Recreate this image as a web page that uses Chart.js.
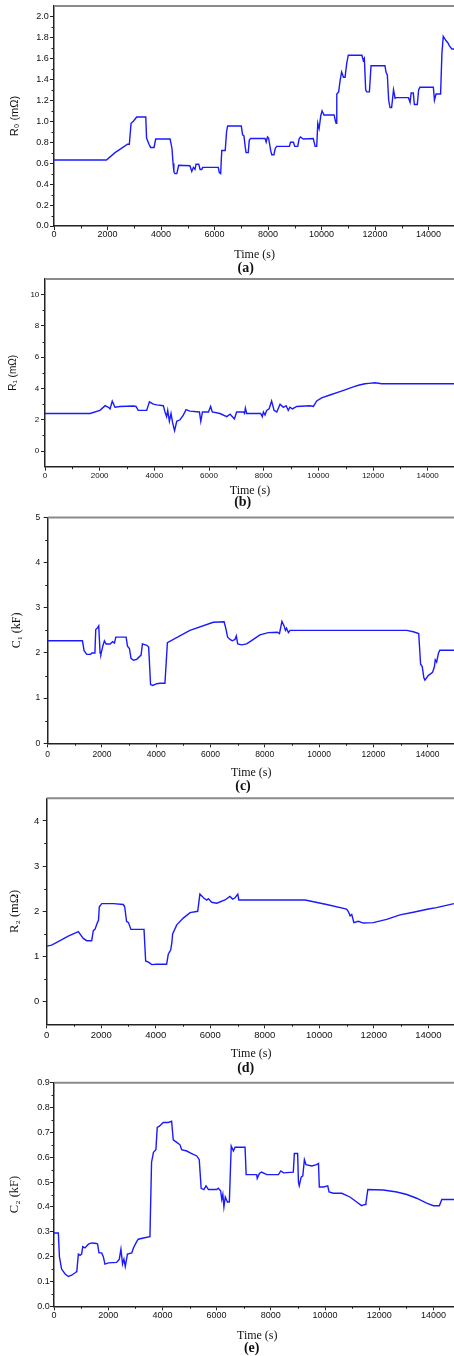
<!DOCTYPE html>
<html>
<head>
<meta charset="utf-8">
<script src="https://cdn.jsdelivr.net/npm/chart.js@4.4.0/dist/chart.umd.min.js"></script>
<style>
  html, body { margin: 0; padding: 0; background: #fff; }
  #page { position: relative; width: 454px; height: 1356px; overflow: hidden; }
  .panel { position: absolute; left: 0; }
  .tag {
    position: absolute;
    font: bold 14px "Liberation Serif", "Times New Roman", serif;
    color: #111;
    transform: translate(-50%, -50%);
    white-space: nowrap;
  }
</style>
</head>
<body>
<div id="page"></div>
<script>
// [time (s), value] pairs for each identified parameter
const r0Series = [
  [0, 0.63], [1960, 0.63], [2280, 0.70], [2750, 0.78], [2816, 0.78], [2880, 0.98], [2965, 1.00], [3090, 1.04],
  [3430, 1.04], [3460, 0.84], [3550, 0.78], [3610, 0.75], [3740, 0.75], [3800, 0.83], [4340, 0.83], [4410, 0.74],
  [4450, 0.60], [4480, 0.52], [4520, 0.50], [4590, 0.50], [4660, 0.58], [5080, 0.575], [5150, 0.52], [5210, 0.56],
  [5270, 0.54], [5310, 0.59], [5410, 0.59], [5460, 0.54], [5520, 0.54], [5560, 0.56], [6140, 0.56], [6180, 0.51],
  [6230, 0.50], [6270, 0.72], [6400, 0.72], [6450, 0.90], [6490, 0.955], [7000, 0.955], [7050, 0.87], [7100, 0.86],
  [7150, 0.75], [7180, 0.70], [7260, 0.70], [7300, 0.82], [7350, 0.835], [7890, 0.835], [7930, 0.80], [7980, 0.85],
  [8020, 0.84], [8100, 0.72], [8140, 0.68], [8220, 0.68], [8270, 0.74], [8320, 0.76], [8800, 0.76], [8840, 0.80],
  [8950, 0.80], [9000, 0.76], [9110, 0.76], [9160, 0.83], [9210, 0.85], [9320, 0.83], [9690, 0.835], [9760, 0.76],
  [9820, 0.76], [9860, 0.98], [9910, 0.93], [9970, 1.05], [10020, 1.10], [10090, 1.06], [10470, 1.06], [10520, 1.00],
  [10545, 0.98], [10570, 1.26], [10640, 1.28], [10690, 1.38], [10750, 1.47], [10820, 1.42], [10880, 1.42], [10940, 1.55],
  [11000, 1.63], [11510, 1.63], [11560, 1.58], [11600, 1.60], [11650, 1.30], [11690, 1.28], [11790, 1.28], [11850, 1.53],
  [12370, 1.53], [12410, 1.47], [12460, 1.44], [12510, 1.20], [12560, 1.13], [12620, 1.13], [12690, 1.30], [12750, 1.22],
  [12800, 1.225], [13250, 1.225], [13310, 1.18], [13350, 1.27], [13430, 1.27], [13470, 1.16], [13580, 1.16], [13630, 1.30],
  [13680, 1.325], [14180, 1.325], [14220, 1.20], [14280, 1.26], [14450, 1.26], [14500, 1.65], [14550, 1.81], [14650, 1.77],
  [14720, 1.75], [14780, 1.72], [14870, 1.69], [15000, 1.69]
];

const r1Series = [
  [0, 2.4], [1650, 2.4], [2010, 2.6], [2200, 2.9], [2320, 2.8], [2380, 2.7], [2460, 3.2], [2560, 2.8],
  [2740, 2.85], [3230, 2.88], [3330, 2.85], [3410, 2.6], [3720, 2.6], [3820, 3.15], [3960, 3.0], [4090, 2.95],
  [4330, 2.9], [4390, 2.5], [4450, 2.2], [4490, 2.6], [4550, 1.9], [4610, 2.4], [4670, 1.8], [4740, 1.3],
  [4820, 1.9], [4940, 2.0], [5060, 2.3], [5160, 2.65], [5300, 2.55], [5650, 2.5], [5700, 1.9], [5760, 2.5],
  [5980, 2.5], [6060, 2.85], [6120, 2.5], [6400, 2.4], [6650, 2.2], [6770, 2.35], [6930, 2.05], [7010, 2.5],
  [7260, 2.5], [7300, 2.4], [7330, 2.75], [7380, 2.4], [7890, 2.4], [7950, 2.2], [7990, 2.5], [8050, 2.3],
  [8110, 2.6], [8200, 2.7], [8290, 3.2], [8380, 2.6], [8480, 2.5], [8600, 3.0], [8720, 2.8], [8820, 2.9],
  [8900, 2.6], [8960, 2.8], [9050, 2.7], [9210, 2.85], [9700, 2.9], [9820, 2.85], [9940, 3.2], [10120, 3.4],
  [10450, 3.6], [10790, 3.8], [11000, 3.93], [11280, 4.1], [11500, 4.22], [11710, 4.3], [11850, 4.33], [12070, 4.37],
  [12320, 4.3], [15000, 4.3]
];

const c1Series = [
  [0, 2.27], [1280, 2.27], [1340, 2.05], [1440, 1.97], [1580, 1.97], [1630, 2.0], [1740, 2.0], [1770, 2.52],
  [1830, 2.55], [1880, 2.6], [1930, 2.0], [1960, 1.97], [2030, 2.15], [2090, 2.27], [2150, 2.2], [2300, 2.2],
  [2390, 2.25], [2460, 2.22], [2510, 2.35], [2890, 2.35], [2940, 2.15], [3010, 2.1], [3070, 1.88], [3160, 1.84],
  [3280, 1.86], [3400, 1.93], [3440, 1.95], [3490, 2.2], [3650, 2.17], [3720, 2.13], [3790, 1.3], [3870, 1.28],
  [4020, 1.32], [4140, 1.33], [4320, 1.33], [4410, 2.23], [5240, 2.5], [6100, 2.68], [6500, 2.69], [6560, 2.55],
  [6630, 2.35], [6720, 2.3], [6800, 2.27], [6900, 2.3], [6950, 2.38], [7000, 2.2], [7150, 2.18], [7330, 2.2],
  [7580, 2.3], [7820, 2.4], [8130, 2.45], [8460, 2.46], [8540, 2.43], [8630, 2.7], [8710, 2.6], [8760, 2.5],
  [8800, 2.55], [8870, 2.45], [8930, 2.5], [13230, 2.5], [13470, 2.47], [13670, 2.43], [13740, 1.75], [13800, 1.7],
  [13860, 1.45], [13900, 1.4], [14020, 1.5], [14180, 1.57], [14250, 1.7], [14280, 1.85], [14330, 1.8], [14400, 2.0],
  [14450, 2.06], [15000, 2.06]
];

const r2Series = [
  [0, 1.23], [180, 1.25], [490, 1.35], [790, 1.45], [1080, 1.53], [1160, 1.55], [1340, 1.4], [1470, 1.35],
  [1650, 1.35], [1710, 1.57], [1770, 1.6], [1860, 1.75], [1900, 1.8], [1930, 2.1], [2020, 2.17], [2450, 2.17],
  [2810, 2.15], [2860, 2.1], [2930, 1.78], [3000, 1.75], [3090, 1.6], [3570, 1.6], [3630, 0.9], [3750, 0.87],
  [3850, 0.82], [4030, 0.83], [4400, 0.83], [4460, 1.05], [4550, 1.15], [4590, 1.3], [4620, 1.5], [4770, 1.7],
  [5010, 1.85], [5260, 1.97], [5540, 2.0], [5620, 2.38], [5750, 2.3], [5870, 2.25], [5930, 2.28], [6050, 2.2],
  [6240, 2.18], [6540, 2.25], [6720, 2.33], [6820, 2.27], [6910, 2.3], [7010, 2.38], [7050, 2.25], [9480, 2.25],
  [10270, 2.15], [11000, 2.05], [11060, 2.0], [11130, 1.9], [11190, 1.93], [11270, 1.75], [11430, 1.78], [11620, 1.74],
  [11980, 1.75], [12470, 1.82], [12960, 1.92], [13450, 1.98], [14000, 2.05], [14300, 2.08], [14940, 2.17], [15000, 2.18]
];

const c2Series = [
  [0, 0.295], [160, 0.295], [200, 0.2], [280, 0.15], [410, 0.13], [530, 0.12], [650, 0.125], [780, 0.135],
  [840, 0.14], [900, 0.21], [960, 0.205], [1020, 0.21], [1060, 0.24], [1140, 0.235], [1270, 0.25], [1390, 0.255],
  [1570, 0.253], [1610, 0.25], [1660, 0.215], [1760, 0.215], [1820, 0.2], [1880, 0.17], [2010, 0.175], [2310, 0.177],
  [2410, 0.19], [2470, 0.23], [2530, 0.17], [2580, 0.19], [2630, 0.16], [2710, 0.21], [2870, 0.215], [2930, 0.235],
  [3050, 0.26], [3110, 0.27], [3300, 0.275], [3540, 0.28], [3600, 0.58], [3670, 0.62], [3760, 0.63], [3810, 0.72],
  [3890, 0.725], [4030, 0.74], [4220, 0.74], [4340, 0.745], [4400, 0.67], [4530, 0.66], [4650, 0.65], [4710, 0.63],
  [4900, 0.625], [5080, 0.615], [5270, 0.605], [5360, 0.59], [5430, 0.475], [5530, 0.47], [5610, 0.485], [5700, 0.47],
  [6000, 0.47], [6060, 0.475], [6150, 0.465], [6190, 0.43], [6230, 0.45], [6270, 0.4], [6320, 0.44], [6400, 0.42],
  [6470, 0.42], [6540, 0.645], [6620, 0.625], [6680, 0.64], [7050, 0.64], [7090, 0.53], [7480, 0.53], [7500, 0.515],
  [7580, 0.535], [7660, 0.54], [7850, 0.53], [8280, 0.53], [8370, 0.545], [8470, 0.537], [8830, 0.54], [8870, 0.615],
  [8990, 0.615], [9020, 0.5], [9050, 0.485], [9120, 0.52], [9180, 0.525], [9240, 0.59], [9300, 0.57], [9510, 0.565],
  [9690, 0.57], [9760, 0.575], [9790, 0.48], [9940, 0.48], [10100, 0.485], [10150, 0.46], [10310, 0.455], [10620, 0.455],
  [10920, 0.44], [11170, 0.42], [11350, 0.405], [11480, 0.41], [11510, 0.415], [11580, 0.47], [12150, 0.468], [12650, 0.46],
  [13020, 0.45], [13380, 0.435], [13750, 0.415], [14000, 0.405], [14220, 0.405], [14310, 0.43], [15000, 0.43]
];

// axis ticks
const timeTicks = [0, 2000, 4000, 6000, 8000, 10000, 12000, 14000];
const r0Ticks = [0, 0.2, 0.4, 0.6, 0.8, 1.0, 1.2, 1.4, 1.6, 1.8, 2.0];
const r1Ticks = [0, 2, 4, 6, 8, 10];
const c1Ticks = [0, 1, 2, 3, 4, 5];
const r2Ticks = [0, 1, 2, 3, 4];
const c2Ticks = [0, 0.1, 0.2, 0.3, 0.4, 0.5, 0.6, 0.7, 0.8, 0.9];

const SANS = "'Liberation Sans', Arial, sans-serif";
const SERIF = "'Liberation Serif', 'Times New Roman', serif";
const INK = '#222';
const CANVAS_W = 480;

const panels = [
  { series: r0Series, yTicks: r0Ticks, yMin: 0, yMax: 2.1, digits: 1,
    top: 6, bottom: 226, left: 54, right: 455.3,
    yTitle: 'R₀ (mΩ)', yFont: { family: SANS, size: 11 }, yTitleX: 15,
    tickSize: 9, xPad: 0.5, yPad: 1.3, xTitleY: 255, tag: '(a)', tagX: 245.7, tagY: 268 },
  { series: r1Series, yTicks: r1Ticks, yMin: -1, yMax: 11, digits: 0,
    top: 279, bottom: 466.7, left: 45, right: 455,
    yTitle: 'R₁ (mΩ)', yFont: { family: SANS, size: 10 }, yTitleX: 13,
    tickSize: 8, xPad: 1, yPad: 1.7, xTitleY: 491, tag: '(b)', tagX: 242.7, tagY: 502.3 },
  { series: c1Series, yTicks: c1Ticks, yMin: 0, yMax: 5, digits: 0,
    top: 517.5, bottom: 743.3, left: 47.7, right: 454.8,
    yTitle: 'C₁ (kF)', yFont: { family: SERIF, size: 12 }, yTitleX: 17,
    tickSize: 8.5, xPad: 3, yPad: 3.4, xTitleY: 772.7, tag: '(c)', tagX: 243, tagY: 786 },
  { series: r2Series, yTicks: r2Ticks, yMin: -0.5, yMax: 4.5, digits: 0,
    top: 798.3, bottom: 1024.3, left: 46.7, right: 455.6,
    yTitle: 'R₂ (mΩ)', yFont: { family: SERIF, size: 12.5 }, yTitleX: 15,
    tickSize: 9.5, xPad: 2.6, yPad: 3.4, xTitleY: 1054, tag: '(d)', tagX: 245.7, tagY: 1068 },
  { series: c2Series, yTicks: c2Ticks, yMin: 0, yMax: 0.9, digits: 1,
    top: 1082.7, bottom: 1306.3, left: 54, right: 460.5,
    yTitle: 'C₂ (kF)', yFont: { family: SERIF, size: 12.5 }, yTitleX: 15,
    tickSize: 9, xPad: 0.5, yPad: 0.3, xTitleY: 1335.7, tag: '(e)', tagX: 251.7, tagY: 1348 }
];

// minor ticks halfway between the major ones, plus the grey top frame
const framePlugin = {
  id: 'framePlugin',
  afterDraw(chart) {
    const { ctx, chartArea } = chart;
    const xs = chart.scales.x, ys = chart.scales.y;
    ctx.save();
    ctx.strokeStyle = '#8a8a8a';
    ctx.lineWidth = 2;
    ctx.beginPath();
    ctx.moveTo(chartArea.left, chartArea.top);
    ctx.lineTo(chartArea.right, chartArea.top);
    ctx.stroke();

    ctx.strokeStyle = INK;
    ctx.lineWidth = 1;
    ctx.beginPath();
    const minors = (scale) => {
      const vals = scale.ticks.map(t => t.value);
      const half = (vals[1] - vals[0]) / 2;
      const out = [];
      vals.forEach(v => {
        [v - half, v + half].forEach(m => {
          if (m > scale.min + 1e-9 && m < scale.max - 1e-9 && !out.some(o => Math.abs(o - m) < 1e-9)) out.push(m);
        });
      });
      return out;
    };
    minors(xs).forEach(v => {
      const px = Math.round(xs.getPixelForValue(v)) + 0.5;
      ctx.moveTo(px, chartArea.bottom);
      ctx.lineTo(px, chartArea.bottom + 2.5);
    });
    minors(ys).forEach(v => {
      const py = Math.round(ys.getPixelForValue(v)) + 0.5;
      ctx.moveTo(chartArea.left, py);
      ctx.lineTo(chartArea.left - 2.5, py);
    });
    ctx.stroke();
    ctx.restore();
  }
};

const page = document.getElementById('page');

panels.forEach((p) => {
  const canvasTop = Math.round(p.top) - 9;
  const padTop = p.top - canvasTop;
  const xTitleLine = 12 * 1.2;
  const xAxisH = p.xTitleY - p.bottom + xTitleLine / 2;
  const plotBottom = p.bottom - canvasTop;
  const canvasH = Math.ceil(plotBottom + xAxisH) + 2;
  const padBottom = canvasH - plotBottom - xAxisH;
  const yLine = p.yFont.size * 1.2;

  const wrap = document.createElement('div');
  wrap.className = 'panel';
  wrap.style.top = canvasTop + 'px';
  const canvas = document.createElement('canvas');
  canvas.width = CANVAS_W;
  canvas.height = canvasH;
  canvas.style.width = CANVAS_W + 'px';
  canvas.style.height = canvasH + 'px';
  wrap.appendChild(canvas);
  page.appendChild(wrap);

  const tag = document.createElement('div');
  tag.className = 'tag';
  tag.textContent = p.tag;
  tag.style.left = p.tagX + 'px';
  tag.style.top = p.tagY + 'px';
  page.appendChild(tag);

  new Chart(canvas, {
    type: 'line',
    data: {
      datasets: [{
        data: p.series.map(([t, v]) => ({ x: t, y: v })),
        borderColor: '#1a1aff',
        borderWidth: 1.4,
        pointRadius: 0,
        tension: 0,
        fill: false
      }]
    },
    options: {
      responsive: false,
      devicePixelRatio: 1,
      animation: false,
      events: [],
      layout: { padding: { left: 0, top: padTop, right: CANVAS_W - p.right, bottom: padBottom } },
      plugins: { legend: { display: false }, tooltip: { enabled: false } },
      scales: {
        x: {
          type: 'linear',
          min: 0,
          max: 15000,
          afterBuildTicks: (scale) => { scale.ticks = timeTicks.map(v => ({ value: v })); },
          afterFit: (scale) => { scale.height = xAxisH; },
          border: { display: true, color: INK, width: 1.5 },
          grid: { drawOnChartArea: false, drawTicks: true, tickLength: 4, tickColor: INK, tickWidth: 1 },
          ticks: {
            autoSkip: false,
            maxRotation: 0,
            padding: p.xPad,
            color: '#111',
            font: { family: SANS, size: p.tickSize, lineHeight: 1 },
            callback: (v) => String(v)
          },
          title: {
            display: true,
            text: 'Time (s)',
            color: '#111',
            padding: { top: 0, bottom: 0 },
            font: { family: SERIF, size: 12, lineHeight: 1.2 }
          }
        },
        y: {
          type: 'linear',
          min: p.yMin,
          max: p.yMax,
          afterBuildTicks: (scale) => { scale.ticks = p.yTicks.map(v => ({ value: v })); },
          afterFit: (scale) => { scale.width = p.left; },
          border: { display: true, color: INK, width: 1.5 },
          grid: { drawOnChartArea: false, drawTicks: true, tickLength: 4, tickColor: INK, tickWidth: 1 },
          ticks: {
            autoSkip: false,
            padding: p.yPad,
            color: '#111',
            font: { family: SANS, size: p.tickSize, lineHeight: 1 },
            callback: (v) => Number(v).toFixed(p.digits)
          },
          title: {
            display: true,
            text: p.yTitle,
            color: '#111',
            padding: { top: p.yTitleX - yLine / 2, bottom: 0 },
            font: { family: p.yFont.family, size: p.yFont.size, lineHeight: 1.2 }
          }
        }
      }
    },
    plugins: [framePlugin]
  });
});
</script>
</body>
</html>
